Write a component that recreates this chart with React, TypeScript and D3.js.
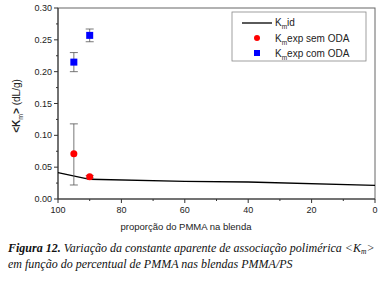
import * as d3 from 'd3';

const idX = [100, 90, 60, 40, 0];
const idY = [0.0415, 0.031, 0.0276, 0.0267, 0.0213];

const semX = [95, 90];
const semY = [0.071, 0.035];
const semLo = [0.022, 0.033];
const semHi = [0.118, 0.037];

const comX = [95, 90];
const comY = [0.215, 0.257];
const comLo = [0.2, 0.247];
const comHi = [0.23, 0.267];

const xTicks = [100, 80, 60, 40, 20, 0];
const yTicks = [0, 0.05, 0.1, 0.15, 0.2, 0.25, 0.3];

const W = 390;
const H = 283;
const m = { left: 58, right: 15, top: 8, bottom: 84 };

export default function App() {
  const x = d3.scaleLinear().domain([100, 0]).range([m.left, W - m.right]);
  const y = d3.scaleLinear().domain([0, 0.3]).range([H - m.bottom, m.top]);
  const line = d3.line<number>().x((d, i) => x(idX[i])).y(d => y(d));
  const minorX = d3.range(90, 0, -20);
  const minorY = d3.range(0.025, 0.3, 0.05);
  const axisColor = '#333';
  const font = 'Liberation Sans, Arial, sans-serif';
  const x0 = m.left, x1 = W - m.right, y0 = H - m.bottom, y1 = m.top;

  const errBar = (xv: number, lo: number, hi: number, k: string) => (
    <g key={k} stroke="#555" strokeWidth={0.8}>
      <line x1={x(xv)} x2={x(xv)} y1={y(lo)} y2={y(hi)} />
      <line x1={x(xv) - 4} x2={x(xv) + 4} y1={y(lo)} y2={y(lo)} />
      <line x1={x(xv) - 4} x2={x(xv) + 4} y1={y(hi)} y2={y(hi)} />
    </g>
  );

  return (
    <svg width={W} height={H} style={{ position: 'absolute', left: 0, top: 0, background: '#fff' }}>
      <rect x={x0} y={y1} width={x1 - x0} height={y0 - y1} fill="none" stroke="#666" strokeWidth={1} />
      <line x1={x0} x2={x0} y1={y1} y2={y0} stroke={axisColor} />
      <line x1={x0} x2={x1} y1={y0} y2={y0} stroke={axisColor} />
      {xTicks.map(t => (
        <g key={'xt' + t}>
          <line x1={x(t)} x2={x(t)} y1={y0} y2={y0 + 4} stroke={axisColor} />
          <text x={x(t)} y={y0 + 13.5} textAnchor="middle" fontSize={9} fontFamily={font} fill="#222">{t}</text>
        </g>
      ))}
      {minorX.map(t => (
        <line key={'xm' + t} x1={x(t)} x2={x(t)} y1={y0} y2={y0 + 2} stroke={axisColor} />
      ))}
      {yTicks.map(t => (
        <g key={'yt' + t}>
          <line x1={x0 - 4} x2={x0} y1={y(t)} y2={y(t)} stroke={axisColor} />
          <text x={x0 - 6} y={y(t) + 3} textAnchor="end" fontSize={9} fontFamily={font} fill="#222">{t.toFixed(2)}</text>
        </g>
      ))}
      {minorY.map(t => (
        <line key={'ym' + t} x1={x0 - 2} x2={x0} y1={y(t)} y2={y(t)} stroke={axisColor} />
      ))}

      <path d={line(idY) || ''} fill="none" stroke="#000" strokeWidth={1.3} />

      {semX.map((v, i) => errBar(v, semLo[i], semHi[i], 'se' + i))}
      {comX.map((v, i) => errBar(v, comLo[i], comHi[i], 'ce' + i))}
      {semX.map((v, i) => (
        <circle key={'s' + i} cx={x(v)} cy={y(semY[i])} r={3.5} fill="#ff0000" />
      ))}
      {comX.map((v, i) => (
        <rect key={'c' + i} x={x(v) - 3.5} y={y(comY[i]) - 3.5} width={7} height={7} fill="#0000ff" />
      ))}

      <g fontFamily={font} fontSize={10} fill="#222">
        <rect x={232} y={12} width={134} height={49} fill="#fff" stroke="#888" strokeWidth={0.8} />
        <line x1={242} x2={272} y1={23} y2={23} stroke="#000" strokeWidth={1.3} />
        <text x={275} y={26}>K<tspan fontSize={6.5} dy={3}>m</tspan><tspan dy={-3}>id</tspan></text>
        <circle cx={257} cy={38} r={3} fill="#ff0000" />
        <text x={275} y={41.5}>K<tspan fontSize={6.5} dy={3}>m</tspan><tspan dy={-3}>exp sem ODA</tspan></text>
        <rect x={254} y={50} width={6} height={6} fill="#0000ff" />
        <text x={275} y={57}>K<tspan fontSize={6.5} dy={3}>m</tspan><tspan dy={-3}>exp com ODA</tspan></text>
      </g>

      <text transform={`translate(20,106) rotate(-90)`} textAnchor="middle" fontFamily={font} fontSize={10} fill="#222">
        <tspan fontWeight="bold">&lt;K</tspan><tspan fontSize={7} dy={3}>m</tspan><tspan dy={-3} fontWeight="bold">&gt;</tspan><tspan> (dL/g)</tspan>
      </text>
      <text x={186} y={229.5} textAnchor="middle" fontFamily={font} fontSize={9.5} fill="#222">
        proporção do PMMA na blenda
      </text>

      <g fontFamily="Liberation Serif, Times New Roman, serif" fontSize={12} fontStyle="italic" fill="#111">
        <text x={8} y={252}>
          <tspan fontWeight="bold">Figura 12.</tspan> Variação da constante aparente de associação polimérica &lt;K<tspan fontSize={7.5} dy={2}>m</tspan><tspan dy={-2}>&gt;</tspan>
        </text>
        <text x={8} y={268}>em função do percentual de PMMA nas blendas PMMA/PS</text>
      </g>
    </svg>
  );
}
